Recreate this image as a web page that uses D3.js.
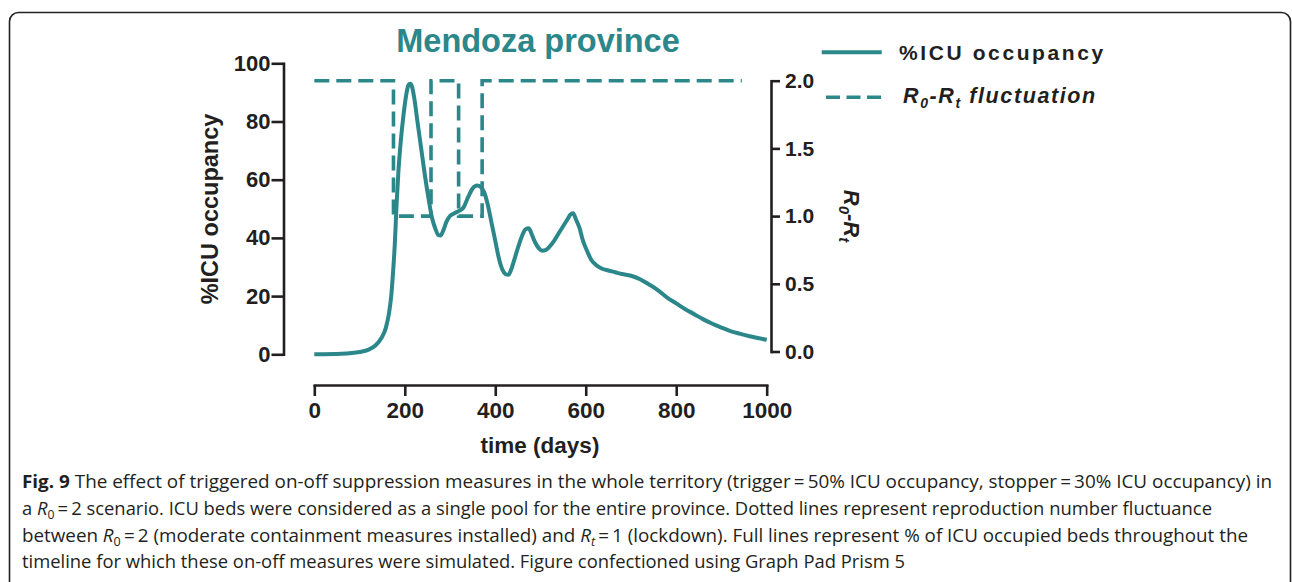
<!DOCTYPE html>
<html>
<head>
<meta charset="utf-8">
<script src="https://cdn.jsdelivr.net/npm/d3@7"></script>
<style>
  body { margin: 0; background: #fff; }
  svg { display: block; }
  .axis path, .axis line { stroke: #231f20; stroke-width: 2.6; }
  .axis text { font-family: "Liberation Sans", Arial, sans-serif; font-weight: bold; fill: #231f20; }
</style>
</head>
<body>
<svg id="chart" width="1292" height="582"></svg>
<script>
// ICU occupancy (%) over time (days)
const days = [0, 60, 100, 120, 135, 148, 158, 165, 170, 174, 178, 182, 186, 191, 197, 203, 208, 212, 216, 221, 228, 236, 244, 252, 260, 268, 274, 279, 285, 292, 300, 310, 320, 330, 340, 350, 360, 368, 376, 384, 392, 400, 408, 416, 423, 429, 436, 444, 452, 460, 467, 474, 480, 488, 496, 504, 511, 520, 530, 540, 550, 560, 566, 572, 578, 586, 594, 603, 612, 622, 635, 650, 665, 680, 700, 720, 740, 760, 780, 800, 820, 840, 860, 880, 900, 920, 940, 960, 980, 1000];
const icu = [0, 0.2, 0.8, 1.6, 3, 5.5, 9, 14, 20, 28, 38, 52, 63, 73, 82, 89, 92.5, 93, 92, 88, 80, 71, 62, 54, 47, 43, 41, 40.8, 42.5, 45.5, 47.5, 48.5, 49.3, 50.5, 54, 57, 58, 57.5, 55.5, 51, 45, 39, 33, 29, 27.5, 27.3, 29.5, 33.5, 37.5, 41, 43, 43.3, 41.5, 38.5, 36.5, 35.6, 35.8, 37, 39, 41.5, 44, 46.5, 48, 48.5, 46.5, 43.5, 39, 35.5, 32.5, 30.8, 29.5, 28.8, 28.2, 27.6, 27, 25.8, 24, 22, 19.5, 17.5, 15.5, 13.8, 12, 10.5, 9.2, 8, 7.1, 6.3, 5.6, 5];

// R0-Rt switching points (value holds until next day)
const rDays = [0, 175, 258, 319, 371, 945];
const rVals = [2, 1, 2, 1, 2, 2];

const xTicks = [0, 200, 400, 600, 800, 1000];
const leftTicks = [0, 20, 40, 60, 80, 100];
const rightTicks = [0, 0.5, 1, 1.5, 2];

const captionLines = [
  [{t: "Fig. 9", b: true}, {t: " The effect of triggered on-off suppression measures in the whole territory (trigger\u2009=\u200950% ICU occupancy, stopper\u2009=\u200930% ICU occupancy) in"}],
  [{t: "a "}, {t: "R", i: true}, {t: "0", sub: true}, {t: "\u2009=\u20092 scenario. ICU beds were considered as a single pool for the entire province. Dotted lines represent reproduction number fluctuance"}],
  [{t: "between "}, {t: "R", i: true}, {t: "0", sub: true}, {t: "\u2009=\u20092 (moderate containment measures installed) and "}, {t: "R", i: true}, {t: "t", sub: true, i: true}, {t: "\u2009=\u20091 (lockdown). Full lines represent % of ICU occupied beds throughout the"}],
  [{t: "timeline for which these on-off measures were simulated. Figure confectioned using Graph Pad Prism 5"}]
];
const captionEnds = [1272, 1212, 1248, 905];

const teal = "#2b878a";
const ink = "#231f20";
const bold = "'Liberation Sans', Arial, sans-serif";

const svg = d3.select("#chart");

// frame
svg.append("rect")
  .attr("x", 9.5).attr("y", 12.5)
  .attr("width", 1281).attr("height", 640)
  .attr("rx", 9)
  .attr("fill", "none")
  .attr("stroke", "#222")
  .attr("stroke-width", 1.6);

const x = d3.scaleLinear().domain([0, 1000]).range([314.3, 766.7]);
const yL = d3.scaleLinear().domain([0, 100]).range([354.3, 63.3]);
const yR = d3.scaleLinear().domain([0, 2]).range([351.5, 80.7]);

// axes
svg.append("g").attr("class", "axis")
  .attr("transform", "translate(283.5,0)")
  .call(d3.axisLeft(yL).tickValues(leftTicks).tickSize(12).tickSizeOuter(0).tickPadding(1))
  .selectAll("text").style("font-size", "22px");

svg.append("g").attr("class", "axis")
  .attr("transform", "translate(771,0)")
  .call(d3.axisRight(yR).tickValues(rightTicks).tickFormat(d3.format(".1f")).tickSize(9).tickSizeOuter(0).tickPadding(5))
  .selectAll("text").style("font-size", "21px");

svg.append("g").attr("class", "axis")
  .attr("transform", "translate(0,385)")
  .call(d3.axisBottom(x).tickValues(xTicks).tickFormat(d3.format("d")).tickSize(11).tickSizeOuter(0).tickPadding(6))
  .selectAll("text").style("font-size", "22.5px");

svg.selectAll(".axis path").attr("stroke-linecap", "square");

// lines
const rLine = d3.line()
  .x((d, i) => x(rDays[i]))
  .y((d, i) => yR(rVals[i]))
  .curve(d3.curveStepAfter);

svg.append("path")
  .datum(rDays)
  .attr("d", rLine)
  .attr("fill", "none")
  .attr("stroke", teal)
  .attr("stroke-width", 3.6)
  .attr("stroke-dasharray", "15,7");

const icuLine = d3.line()
  .x((d, i) => x(days[i]))
  .y((d, i) => yL(icu[i]))
  .curve(d3.curveMonotoneX);

svg.append("path")
  .datum(days)
  .attr("d", icuLine)
  .attr("fill", "none")
  .attr("stroke", teal)
  .attr("stroke-width", 4)
  .attr("stroke-linejoin", "round");

// title
svg.append("text")
  .attr("x", 538).attr("y", 52)
  .attr("text-anchor", "middle")
  .style("font-family", bold)
  .style("font-weight", "bold")
  .style("font-size", "32.5px")
  .attr("fill", teal)
  .text("Mendoza province");

// axis titles
svg.append("text")
  .attr("transform", "translate(218,209) rotate(-90)")
  .attr("text-anchor", "middle")
  .style("font-family", bold).style("font-weight", "bold").style("font-size", "23.5px")
  .attr("fill", ink)
  .text("%ICU occupancy");

svg.append("text")
  .attr("x", 540).attr("y", 453)
  .attr("text-anchor", "middle")
  .style("font-family", bold).style("font-weight", "bold").style("font-size", "22.5px")
  .attr("fill", ink)
  .text("time (days)");

const rt = svg.append("text")
  .attr("transform", "translate(844,216) rotate(90)")
  .attr("text-anchor", "middle")
  .style("font-family", bold).style("font-weight", "bold").style("font-style", "italic").style("font-size", "22px")
  .attr("fill", ink);
rt.append("tspan").text("R");
rt.append("tspan").attr("dy", 5).style("font-size", "15px").text("0");
rt.append("tspan").attr("dy", -5).text("-R");
rt.append("tspan").attr("dy", 5).style("font-size", "15px").text("t");

// legend
svg.append("line")
  .attr("x1", 821.7).attr("x2", 881.7).attr("y1", 52.3).attr("y2", 52.3)
  .attr("stroke", teal).attr("stroke-width", 4);
svg.append("text")
  .attr("x", 899).attr("y", 59.5)
  .style("font-family", bold).style("font-weight", "bold").style("font-size", "21px")
  .style("letter-spacing", "2.6px")
  .attr("fill", ink)
  .text("%ICU occupancy");

svg.append("line")
  .attr("x1", 826).attr("x2", 881).attr("y1", 97.3).attr("y2", 97.3)
  .attr("stroke", teal).attr("stroke-width", 3.6).attr("stroke-dasharray", "14,6.5");
const lg = svg.append("text")
  .attr("x", 903).attr("y", 103)
  .style("font-family", bold).style("font-weight", "bold").style("font-style", "italic").style("font-size", "21.5px")
  .style("letter-spacing", "1.6px")
  .attr("fill", ink);
lg.append("tspan").text("R");
lg.append("tspan").attr("dy", 5).style("font-size", "14px").text("0");
lg.append("tspan").attr("dy", -5).text("-R");
lg.append("tspan").attr("dy", 5).style("font-size", "14px").text("t");
lg.append("tspan").attr("dy", -5).text(" fluctuation");

// caption
const capBase = [488, 515, 542, 568];
captionLines.forEach((parts, li) => {
  const t = svg.append("text")
    .attr("x", 22).attr("y", capBase[li])
    .style("font-family", "'Open Sans', 'Noto Sans', sans-serif")
    .style("font-size", "18px")
    .attr("fill", ink);
  parts.forEach((p, k) => {
    const s = t.append("tspan").text(p.t);
    if (p.b) s.style("font-weight", "bold");
    if (p.i) s.style("font-style", "italic");
    if (p.sub) s.attr("dy", 4).style("font-size", "12px");
    else if (k > 0 && parts[k - 1].sub) s.attr("dy", -4);
  });
  t.attr("textLength", captionEnds[li] - 22).attr("lengthAdjust", "spacingAndGlyphs");
});
</script>
</body>
</html>
